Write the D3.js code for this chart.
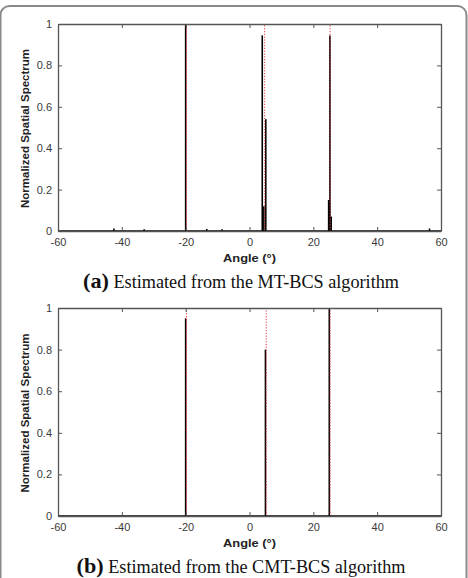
<!DOCTYPE html>
<html>
<head>
<meta charset="utf-8">
<script src="https://cdn.jsdelivr.net/npm/d3@7"></script>
<style>
  body { margin: 0; background: #fff; }
  svg { display: block; }
  .tick text { font-family: "Liberation Sans", Arial, sans-serif; font-size: 11px; fill: #3a3a3a; }
  .axis-label { font-family: "Liberation Sans", Arial, sans-serif; font-size: 11.5px; font-weight: bold; fill: #222; }
  .caption { font-family: "Liberation Serif", "Times New Roman", serif; font-size: 18px; fill: #111; }
</style>
</head>
<body>
<svg width="468" height="578"></svg>
<script>
// angle ticks and amplitude ticks
const xTicks = [-60, -40, -20, 0, 20, 40, 60];
const yTicks = [0, 0.2, 0.4, 0.6, 0.8, 1];

// (a) MT-BCS spectrum spikes
const anglesA = [-42.5, -33, -20, -13.4, -8.6, 4.0, 4.5, 5.1, 24.8, 25.0, 25.2, 25.6, 56.4];
const valuesA = [0.012, 0.008, 1.0, 0.01, 0.008, 0.945, 0.12, 0.54, 0.15, 0.14, 0.945, 0.07, 0.012];
const trueA = [-20, 4.5, 25];

// (b) CMT-BCS spectrum spikes
const anglesB = [-20, 5, 25];
const valuesB = [0.95, 0.8, 1.0];
const trueB = [-20, 5, 25];

const svg = d3.select("svg");

// outer frame
svg.append("rect")
  .attr("x", 0.5).attr("y", 6).attr("width", 466).attr("height", 600)
  .attr("rx", 9)
  .attr("fill", "none").attr("stroke", "#8a8a8a").attr("stroke-width", 2);

function panel(top, bottom, angles, values, truth, tag, text, capWidth) {
  const x = d3.scaleLinear().domain([-60, 60]).range([58, 441]);
  const y = d3.scaleLinear().domain([0, 1]).range([bottom, top]);
  const g = svg.append("g");

  // spectrum stems
  g.selectAll(".spike").data(angles.map((a, i) => [a, values[i]])).enter().append("line")
    .attr("x1", d => x(d[0])).attr("x2", d => x(d[0]))
    .attr("y1", y(0)).attr("y2", d => y(d[1]))
    .attr("stroke", "#000").attr("stroke-width", 1.6);

  // red dotted true-angle lines
  g.selectAll(".truth").data(truth).enter().append("line")
    .attr("x1", d => x(d) + 0.8).attr("x2", d => x(d) + 0.8)
    .attr("y1", y(0)).attr("y2", y(1))
    .attr("stroke", "#e8383d").attr("stroke-width", 1)
    .attr("stroke-dasharray", "1.2,1.6");

  // zero-level spectrum line
  g.append("line")
    .attr("x1", x(-60)).attr("x2", x(60)).attr("y1", y(0)).attr("y2", y(0))
    .attr("stroke", "#000").attr("stroke-width", 1.6);

  // axes, MATLAB-like box with inward ticks
  const fmt = d => d;
  g.append("g").attr("transform", `translate(0,${bottom})`)
    .call(d3.axisBottom(x).tickValues(xTicks).tickSizeInner(-4).tickSizeOuter(0).tickPadding(7).tickFormat(fmt));
  g.append("g").attr("transform", `translate(0,${top})`)
    .call(d3.axisTop(x).tickValues(xTicks).tickSizeInner(-4).tickSizeOuter(0).tickFormat(""));
  g.append("g").attr("transform", "translate(58,0)")
    .call(d3.axisLeft(y).tickValues(yTicks).tickSizeInner(-4).tickSizeOuter(0).tickPadding(6).tickFormat(fmt));
  g.append("g").attr("transform", "translate(441,0)")
    .call(d3.axisRight(y).tickValues(yTicks).tickSizeInner(-4).tickSizeOuter(0).tickFormat(""));
  g.selectAll(".domain").attr("stroke", "#555").attr("stroke-width", 1.3);
  g.selectAll(".tick line").attr("stroke", "#555");

  g.append("text").attr("class", "axis-label")
    .attr("x", 249.5).attr("y", bottom + 31).attr("text-anchor", "middle")
    .attr("textLength", 53).attr("lengthAdjust", "spacingAndGlyphs")
    .text("Angle (°)");
  g.append("text").attr("class", "axis-label")
    .attr("transform", `translate(29,${(top + bottom) / 2 + 1}) rotate(-90)`)
    .attr("text-anchor", "middle")
    .attr("textLength", 159).attr("lengthAdjust", "spacingAndGlyphs")
    .text("Normalized Spatial Spectrum");

  const cap = g.append("text").attr("class", "caption")
    .attr("x", 241).attr("y", bottom + 57).attr("text-anchor", "middle")
    .attr("textLength", capWidth).attr("lengthAdjust", "spacingAndGlyphs");
  cap.append("tspan").attr("font-weight", "bold").attr("font-size", "22px").text(tag);
  cap.append("tspan").text(" " + text);
}

panel(24, 231, anglesA, valuesA, trueA, "(a)", "Estimated from the MT-BCS algorithm", 316);
panel(308, 516, anglesB, valuesB, trueB, "(b)", "Estimated from the CMT-BCS algorithm", 329);
</script>
</body>
</html>
